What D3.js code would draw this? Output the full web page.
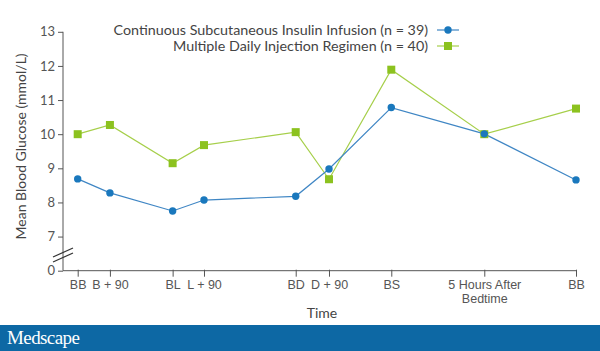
<!DOCTYPE html>
<html lang="en">
<head>
  <meta charset="UTF-8" />
  <title>Mean blood glucose</title>
  <script src="https://d3js.org/d3.v7.min.js"></script>
  <style>
    body { margin: 0; background: #fff; }
    svg { display: block; font-family: Lato, "Open Sans", sans-serif; }
  </style>
</head>
<body>
  <script>
    //data
    const categories = ['BB', 'B + 90', 'BL', 'L + 90', 'BD', 'D + 90', 'BS', '5 Hours After|Bedtime', 'BB'];
    const hours = [0, 1.5, 4.42, 5.88, 10.15, 11.7, 14.6, 18.93, 23.2];
    const csii = [8.69, 8.28, 7.75, 8.07, 8.18, 8.98, 10.78, 10.01, 8.66];
    const mdi = [10.0, 10.27, 9.15, 9.68, 10.06, 8.68, 11.89, 10.0, 10.75];
    const yTicks = [6, 7, 8, 9, 10, 11, 12, 13];
    const seriesNames = ['Continuous Subcutaneous Insulin Infusion (n = 39)', 'Multiple Daily Injection Regimen (n = 40)'];

    const width = 600, height = 351;
    const blue = '#1a78bd', green = '#8cc21f';

    const svg = d3.select('body').append('svg')
      .attr('width', width)
      .attr('height', height);

    const x = d3.scaleLinear().domain([0, 23.2]).range([77.7, 576]);
    // broken axis: bottom tick drawn as "0"
    const y = d3.scaleLinear().domain([6, 13]).range([270.7, 31.8]);

    //y axis
    const yAxis = svg.append('g')
      .attr('transform', 'translate(63,0)')
      .call(d3.axisLeft(y).tickValues(yTicks).tickSize(5).tickPadding(3)
        .tickFormat(d => d === 6 ? '0' : d));
    yAxis.select('.domain').attr('stroke', '#555').attr('d', `M0,${y(13)}V${y(6)}`);
    yAxis.selectAll('.tick line').attr('stroke', '#555');
    yAxis.selectAll('.tick text').attr('fill', '#555').style('font-size', '13px').style('font-family', 'Lato, sans-serif');

    //x axis
    const xAxis = svg.append('g')
      .attr('transform', `translate(0,${y(6)})`)
      .call(d3.axisBottom(x).tickValues(hours).tickSize(6).tickSizeOuter(0).tickFormat(''));
    xAxis.select('.domain').attr('stroke', '#555').attr('d', `M63,0H${x(23.2) + 1}`);
    xAxis.selectAll('.tick line').attr('stroke', '#555').attr('y1', -1).attr('y2', 6);

    xAxis.selectAll('.tick').each(function (d, i) {
      const lines = categories[i].split('|');
      d3.select(this).select('text').remove();
      const t = d3.select(this).append('text')
        .attr('fill', '#555')
        .attr('text-anchor', 'middle')
        .style('font-size', '12.5px');
      lines.forEach((l, j) => t.append('tspan').attr('x', 0).attr('y', 18 + j * 14).text(l));
    });

    //axis break marks
    svg.append('g').selectAll('line')
      .data([0, 5])
      .join('line')
      .attr('x1', 53).attr('x2', 73)
      .attr('y1', d => 257 + d).attr('y2', d => 248 + d)
      .attr('stroke', '#333').attr('stroke-width', 1.2);

    //axis titles
    svg.append('text')
      .attr('transform', `translate(26,${(y(6.6) + y(12.8)) / 2 + 2}) rotate(-90)`)
      .attr('text-anchor', 'middle')
      .attr('fill', '#444')
      .style('font-size', '14px')
      .text('Mean Blood Glucose (mmol/L)');

    svg.append('text')
      .attr('x', 322).attr('y', 318)
      .attr('text-anchor', 'middle')
      .attr('fill', '#444')
      .style('font-size', '14px')
      .text('Time');

    //lines
    const line = d3.line().x((d, i) => x(hours[i])).y(d => y(d));
    svg.append('path').datum(mdi)
      .attr('d', line).attr('fill', 'none').attr('stroke', '#a6cf4a').attr('stroke-width', 1.2);
    svg.append('path').datum(csii)
      .attr('d', line).attr('fill', 'none').attr('stroke', '#3f86c4').attr('stroke-width', 1.2);

    svg.append('g').selectAll('rect')
      .data(mdi)
      .join('rect')
      .attr('x', (d, i) => x(hours[i]) - 4)
      .attr('y', d => y(d) - 4)
      .attr('width', 8).attr('height', 8)
      .attr('fill', green);

    svg.append('g').selectAll('circle')
      .data(csii)
      .join('circle')
      .attr('cx', (d, i) => x(hours[i]))
      .attr('cy', d => y(d))
      .attr('r', 3.7)
      .attr('fill', blue);

    //legend
    const legend = svg.append('g');
    seriesNames.forEach((name, i) => {
      const ly = 30 + i * 16;
      legend.append('text')
        .attr('x', 428).attr('y', ly + 5)
        .attr('text-anchor', 'end')
        .attr('fill', '#444')
        .style('font-size', '14.3px')
        .text(name);
      legend.append('line')
        .attr('x1', 437).attr('x2', 459).attr('y1', ly).attr('y2', ly)
        .attr('stroke', i === 0 ? '#3f86c4' : '#a6cf4a').attr('stroke-width', 1.2);
      if (i === 0) {
        legend.append('circle').attr('cx', 448).attr('cy', ly).attr('r', 3.7).attr('fill', blue);
      } else {
        legend.append('rect').attr('x', 444).attr('y', ly - 4).attr('width', 8).attr('height', 8).attr('fill', green);
      }
    });

    //footer
    svg.append('rect')
      .attr('x', 0).attr('y', 325)
      .attr('width', width).attr('height', height - 325)
      .attr('fill', '#0d68a4');
    svg.append('text')
      .attr('x', 7).attr('y', 344)
      .attr('fill', '#fff')
      .style('font-family', '"Liberation Serif", "DejaVu Serif", serif')
      .style('font-size', '19px')
      .style('letter-spacing', '-0.6px')
      .text('Medscape');
  </script>
</body>
</html>
